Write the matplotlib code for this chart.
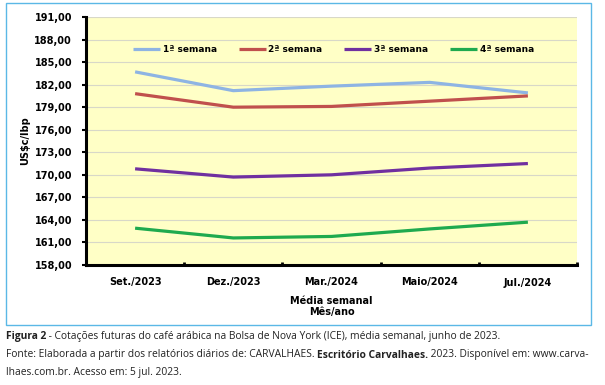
import matplotlib.pyplot as plt
import matplotlib.patches as mpatches

meses = ['Set./2023', 'Dez./2023', 'Mar./2024', 'Maio/2024', 'Jul./2024']
semana1 = [183.7, 181.2, 181.8, 182.3, 180.9]
semana2 = [180.8, 179.0, 179.1, 179.8, 180.5]
semana3 = [170.8, 169.7, 170.0, 170.9, 171.5]
semana4 = [162.9, 161.6, 161.8, 162.8, 163.7]
rotulos = ['1ª semana', '2ª semana', '3ª semana', '4ª semana']
cores = ['#8EB4E3', '#C0504D', '#7030A0', '#1FAA4F']
yticks = [158, 161, 164, 167, 170, 173, 176, 179, 182, 185, 188, 191]

plt.rcParams['font.family'] = ['DejaVu Sans']

fig = plt.figure(figsize=(6.05, 3.85), dpi=100)
W, H = 605, 385
ax = fig.add_axes([86 / W, 1 - 265 / H, (577 - 86) / W, (265 - 17) / H])
ax.set_facecolor('#FFFFC6')

x = list(range(len(meses)))
for serie, rot, cor in zip([semana1, semana2, semana3, semana4], rotulos, cores):
    ax.plot(x, serie, color=cor, lw=2.3, label=rot, solid_capstyle='butt')

ax.set_xlim(-0.5, len(meses) - 0.5)
ax.set_ylim(158, 191)
ax.set_yticks(yticks)
ax.set_yticklabels([f'{v:.2f}'.replace('.', ',') for v in yticks], fontsize=7.0, fontweight='bold')
ax.set_xticks(x)
ax.set_xticklabels(meses, fontsize=7.0, fontweight='bold')
ax.tick_params(axis='x', length=0, pad=9)
ax.tick_params(axis='y', length=3, width=1.5, pad=7)
ax.set_xticks([i + 0.5 for i in range(len(meses))], minor=True)
ax.tick_params(axis='x', which='minor', direction='in', length=2, width=2)
ax.grid(axis='y', color='#D8D8C8', lw=0.8)
ax.set_axisbelow(True)
for s in ['top', 'right']:
    ax.spines[s].set_visible(False)
for s in ['left', 'bottom']:
    ax.spines[s].set_linewidth(2.2)

ax.set_ylabel('US$c/lbp', fontsize=7.0, fontweight='bold', labelpad=3)
ax.set_xlabel('Média semanal\nMês/ano', fontsize=7.0, fontweight='bold', labelpad=6, linespacing=1.2)

ax.legend(loc='center left', bbox_to_anchor=(133 / W, 1 - 50 / H), bbox_transform=fig.transFigure,
          ncol=4, frameon=False, borderpad=0, borderaxespad=0,
          prop={'weight': 'bold', 'size': 6.5}, handlelength=3.0,
          handletextpad=0.3, columnspacing=2.4)

fig.add_artist(mpatches.Rectangle((6 / W, 1 - 325 / H), 585 / W, 322 / H, transform=fig.transFigure,
                                  fill=False, ec='#5BB8E6', lw=1))

# legenda da figura, montada pedaço a pedaço
cap = dict(fontsize=7.4, family='Open Sans', color='#222222', va='center')
linhas = [
    (337, [('Figura 2', True), (' - Cotações futuras do café arábica na Bolsa de Nova York (ICE), média semanal, junho de 2023.', False)]),
    (355, [('Fonte: Elaborada a partir dos relatórios diários de: CARVALHAES. ', False), ('Escritório Carvalhaes.', True),
           (' 2023. Disponível em: www.carva-', False)]),
    (372, [('lhaes.com.br. Acesso em: 5 jul. 2023.', False)]),
]
renderer = fig.canvas.get_renderer()
for y, partes in linhas:
    xpos = 6
    for txt, negrito in partes:
        t = fig.text(xpos / W, 1 - y / H, txt, fontweight='bold' if negrito else 'normal', **cap)
        xpos += t.get_window_extent(renderer).width

fig.savefig('out.png', dpi=100)
